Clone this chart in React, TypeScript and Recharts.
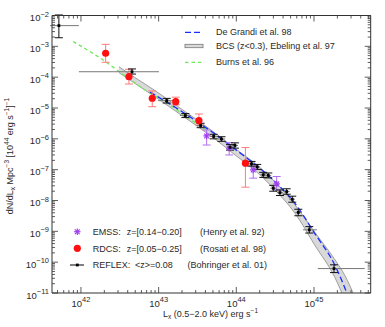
import React from 'react';
import { ComposedChart, XAxis, YAxis, Line, Area, Scatter, ErrorBar } from 'recharts';

// REFLEX, <z>=0.08 (Bohringer et al. 01)
const reflexL = [5.2e41, 4.54e42, 1.27e43, 2.21e43, 3.47e43, 5.11e43, 6.44e43, 8.3e43, 9.6e43, 1.57e44, 1.86e44, 2.22e44, 2.58e44, 2.99e44, 3.65e44, 4.45e44, 5.25e44, 6.28e44, 8.7e44, 1.81e45];
const reflexN = [4.7e-3, 1.5e-4, 1.73e-5, 5.7e-6, 2.7e-6, 1.2e-6, 9.9e-7, 5.3e-7, 6.1e-7, 1.55e-7, 1.23e-7, 6.8e-8, 6.5e-8, 2.5e-8, 1.8e-8, 1.95e-8, 1.1e-8, 4.1e-9, 1.12e-9, 6.2e-11];
const reflexNLo = [1.9e-3, 1.26e-4, 1.45e-5, 4.9e-6, 2.3e-6, 1.0e-6, 8.3e-7, 4.3e-7, 5.0e-7, 1.3e-7, 1.02e-7, 5.6e-8, 5.4e-8, 2.0e-8, 1.45e-8, 1.6e-8, 8.8e-9, 3.2e-9, 8.8e-10, 4.6e-11];
const reflexNHi = [1.04e-2, 1.85e-4, 2.05e-5, 6.6e-6, 3.2e-6, 1.4e-6, 1.17e-6, 6.5e-7, 7.4e-7, 1.85e-7, 1.48e-7, 8.2e-8, 7.8e-8, 3.1e-8, 2.2e-8, 2.4e-8, 1.38e-8, 5.2e-9, 1.42e-9, 8.2e-11];
const reflexLLo = [4.0e41, 9.4e41, 9.8e42, 1.88e43, 3.1e43, 4.57e43, 5.8e43, 7.6e43, 8.8e43, 1.43e44, 1.7e44, 2.03e44, 2.36e44, 2.74e44, 3.34e44, 4.07e44, 4.8e44, 5.75e44, 7.2e44, 1.12e45];
const reflexLHi = [9.4e41, 1.01e43, 1.53e43, 2.61e43, 3.9e43, 5.7e43, 7.2e43, 9.1e43, 1.05e44, 1.71e44, 2.03e44, 2.43e44, 2.82e44, 3.27e44, 3.99e44, 4.86e44, 5.7e44, 6.85e44, 1.09e45, 4.5e45];

// RDCS, z=[0.05-0.25] (Rosati et al. 98)
const rdcsL = [2.08e42, 4.15e42, 8.28e42, 1.66e43, 3.3e43, 1.31e44];
const rdcsN = [5.96e-4, 1.04e-4, 2.07e-5, 1.6e-5, 3.9e-6, 1.62e-7];
const rdcsNLo = [3.04e-4, 6.0e-5, 1.1e-5, 1.26e-5, 2.8e-6, 2.7e-8];
const rdcsNHi = [1.16e-3, 1.8e-4, 3.57e-5, 2.24e-5, 6.4e-6, 5.2e-7];

// EMSS, z=[0.14-0.20] (Henry et al. 92)
const emssL = [4.15e43, 8.1e43, 1.65e44, 3.31e44];
const emssN = [1.24e-6, 4.95e-7, 9.8e-8, 3.45e-8];
const emssNLo = [6.3e-7, 3.0e-7, 5.3e-8, 2.2e-8];
const emssNHi = [1.94e-6, 7.5e-7, 1.32e-7, 6.0e-8];

// BCS (z<0.3), Ebeling et al. 97 - confidence band
const bcsL = [3.08e42, 5.08e42, 9.16e42, 1.65e43, 2.98e43, 5.39e43, 9.73e43, 1.75e44, 3.16e44, 5.72e44, 1.03e45, 1.86e45, 2.51e45, 3.37e45];
const bcsLo = [1.41e-4, 6.03e-5, 2.24e-5, 7.94e-6, 2.82e-6, 9.55e-7, 2.95e-7, 9.33e-8, 2.19e-8, 3.8e-9, 3.47e-10, 3.16e-11, 5.62e-12, 7.94e-13];
const bcsHi = [2.19e-4, 9.33e-5, 3.55e-5, 1.26e-5, 4.47e-6, 1.51e-6, 4.79e-7, 1.58e-7, 3.98e-8, 7.08e-9, 9.12e-10, 1.2e-10, 3.63e-11, 7.24e-12];

// De Grandi et al. 98
const degL = [7.73e42, 9.16e42, 1.65e43, 2.98e43, 5.39e43, 9.73e43, 1.75e44, 3.16e44, 5.72e44, 1.03e45, 1.86e45, 2.51e45, 3.08e45];
const degN = [3.31e-5, 2.55e-5, 1.04e-5, 3.94e-6, 1.39e-6, 4.53e-7, 1.48e-7, 4.01e-8, 7.94e-9, 8.32e-10, 7.94e-11, 1.41e-11, 3.55e-12];

// Burns et al. 96
const burnsL = [7.96e41, 1.76e42, 4.03e42, 6.67e42, 1.2e43, 2.18e43, 4.15e43];
const burnsN = [1.42e-3, 4.2e-4, 9.4e-5, 3.85e-5, 1.62e-5, 5.6e-6, 1.95e-6];

const xMajor = [1e42, 1e43, 1e44, 1e45];
const yMajor = [1e-11, 1e-10, 1e-9, 1e-8, 1e-7, 1e-6, 1e-5, 1e-4, 1e-3, 1e-2];
const xDomain = [4.24e41, 5.37e45];
const yDomain = [1e-11, 1e-2];

const xTicks: number[] = [];
[1e41, 1e42, 1e43, 1e44, 1e45].forEach((d) => {
  for (let k = 1; k < 10; k++) {
    const v = d * k;
    if (v >= xDomain[0] && v <= xDomain[1]) xTicks.push(v);
  }
});
const yTicks: number[] = [];
yMajor.forEach((d) => {
  for (let k = 1; k < 10; k++) {
    const v = d * k;
    if (v <= yDomain[1] * 1.0001) yTicks.push(v);
  }
});

const reflexData = reflexL.map((L, i) => ({
  L,
  n: reflexN[i],
  ey: [reflexN[i] - reflexNLo[i], reflexNHi[i] - reflexN[i]],
  ex: [L - reflexLLo[i], reflexLHi[i] - L],
}));
const rdcsData = rdcsL.map((L, i) => ({ L, n: rdcsN[i], ey: [rdcsN[i] - rdcsNLo[i], rdcsNHi[i] - rdcsN[i]] }));
const emssData = emssL.map((L, i) => ({ L, n: emssN[i], ey: [emssN[i] - emssNLo[i], emssNHi[i] - emssN[i]] }));
const bcsData = bcsL.map((L, i) => ({ L, band: [bcsLo[i], bcsHi[i]] }));
const degData = degL.map((L, i) => ({ L, n: degN[i] }));
const burnsData = burnsL.map((L, i) => ({ L, n: burnsN[i] }));

const FONT = '"Liberation Sans", Arial, Helvetica, sans-serif';
const AX = '#333';
const TXT = '#2a2a2a';
const BLUE = '#1a2cff';
const GREEN = '#6fe85a';
const RED = '#ff1010';
const PURPLE = '#a040f0';

const isMajor = (v: number, majors: number[]) => majors.some((m) => Math.abs(v - m) / m < 1e-6);
const expText = (v: number) => {
  const e = Math.round(Math.log10(v));
  return e < 0 ? `\u2212${-e}` : `${e}`;
};

const BottomTick = (props: any) => {
  const { x, y, payload } = props;
  const major = isMajor(payload.value, xMajor);
  return (
    <g>
      <line x1={x} x2={x} y1={y} y2={y - (major ? 6 : 3)} stroke={AX} strokeWidth={0.8} />
      {major && (
        <text x={x} y={y + 14} textAnchor="middle" fontSize={9.5} fill={TXT} fontFamily={FONT}>
          10<tspan dy={-5.5} fontSize={7.5}>{expText(payload.value)}</tspan>
        </text>
      )}
    </g>
  );
};
const TopTick = (props: any) => {
  const { x, y, payload } = props;
  const major = isMajor(payload.value, xMajor);
  return <line x1={x} x2={x} y1={y} y2={y + (major ? 6 : 3)} stroke={AX} strokeWidth={0.8} />;
};
const LeftTick = (props: any) => {
  const { x, y, payload } = props;
  const major = isMajor(payload.value, yMajor);
  return (
    <g>
      <line x1={x} x2={x + (major ? 6 : 3)} y1={y} y2={y} stroke={AX} strokeWidth={0.8} />
      {major && (
        <text x={x - 3} y={y + 5.5} textAnchor="end" fontSize={9.5} fill={TXT} fontFamily={FONT}>
          10<tspan dy={-4.5} fontSize={7.5}>{expText(payload.value)}</tspan>
        </text>
      )}
    </g>
  );
};
const RightTick = (props: any) => {
  const { x, y, payload } = props;
  const major = isMajor(payload.value, yMajor);
  return <line x1={x} x2={x - (major ? 6 : 3)} y1={y} y2={y} stroke={AX} strokeWidth={0.8} />;
};

const ReflexDot = (props: any) => (
  <rect x={props.cx - 1.4} y={props.cy - 1.4} width={2.8} height={2.8} fill="#000" />
);
const RdcsDot = (props: any) => <circle cx={props.cx} cy={props.cy} r={3.6} fill={RED} />;
const Asterisk = ({ cx, cy, s = 3.2 }: { cx: number; cy: number; s?: number }) => (
  <g stroke={PURPLE} strokeWidth={1.2}>
    <line x1={cx - s} x2={cx + s} y1={cy} y2={cy} />
    <line x1={cx} x2={cx} y1={cy - s} y2={cy + s} />
    <line x1={cx - s * 0.75} x2={cx + s * 0.75} y1={cy - s * 0.75} y2={cy + s * 0.75} />
    <line x1={cx - s * 0.75} x2={cx + s * 0.75} y1={cy + s * 0.75} y2={cy - s * 0.75} />
  </g>
);
const EmssDot = (props: any) => <Asterisk cx={props.cx} cy={props.cy} />;

const Overlay = () => (
  <svg width={385} height={327} style={{ position: 'absolute', left: 0, top: 0, pointerEvents: 'none' }} fontFamily={FONT}>
    {/* top-right legend */}
    <line x1={185} x2={203} y1={32.3} y2={32.3} stroke={BLUE} strokeWidth={1.3} strokeDasharray="6 3" />
    <rect x={185} y={44.3} width={18} height={3.4} fill="#d9d9d9" stroke="#777" strokeWidth={0.8} />
    <line x1={185} x2={203} y1={62.3} y2={62.3} stroke={GREEN} strokeWidth={1.3} strokeDasharray="3.5 3" />
    <g fontSize={9} fill={TXT}>
      <text x={216} y={35}>De Grandi et al. 98</text>
      <text x={216} y={49}>BCS (z&lt;0.3), Ebeling et al. 97</text>
      <text x={216} y={65}>Burns et al. 96</text>
    </g>
    {/* bottom-left legend */}
    <Asterisk cx={77.3} cy={231.7} />
    <circle cx={77.3} cy={248.3} r={3.6} fill={RED} />
    <line x1={70} x2={84} y1={265} y2={265} stroke="#000" strokeWidth={1} />
    <rect x={75.9} y={263.6} width={2.8} height={2.8} fill="#000" />
    <g fontSize={9} fill={TXT} style={{ whiteSpace: 'pre' }}>
      <text x={92.7} y={235}>EMSS:</text>
      <text x={126.7} y={235}>z=[0.14{'\u2212'}0.20]</text>
      <text x={200} y={235}>(Henry et al. 92)</text>
      <text x={92.7} y={252}>RDCS:</text>
      <text x={126.7} y={252}>z=[0.05{'\u2212'}0.25]</text>
      <text x={200} y={252}>(Rosati et al. 98)</text>
      <text x={92.7} y={268}>REFLEX:</text>
      <text x={135} y={268}>&lt;z&gt;=0.08</text>
      <text x={187.5} y={268}>(Bohringer et al. 01)</text>
    </g>
    {/* axis titles */}
    <text x={210.5} y={317} textAnchor="middle" fontSize={9} fill={TXT} style={{ whiteSpace: 'pre' }}>
      L<tspan dy={2} fontSize={6.5}>x</tspan>
      <tspan dy={-2}> (0.5{'\u2212'}2.0 keV) erg s</tspan>
      <tspan dy={-4} fontSize={6.5}>{'\u2212'}1</tspan>
    </text>
    <text transform="translate(13,156) rotate(-90)" textAnchor="middle" fontSize={9} fill={TXT} style={{ whiteSpace: 'pre' }}>
      dN/dL<tspan dy={2} fontSize={6.5}>x</tspan>
      <tspan dy={-2}> Mpc</tspan>
      <tspan dy={-4} fontSize={6.5}>{'\u2212'}3</tspan>
      <tspan dy={4}> [10</tspan>
      <tspan dy={-4} fontSize={6.5}>44</tspan>
      <tspan dy={4}> erg s</tspan>
      <tspan dy={-4} fontSize={6.5}>{'\u2212'}1</tspan>
      <tspan dy={4}>]</tspan>
      <tspan dy={-4} fontSize={6.5}>{'\u2212'}1</tspan>
    </text>
  </svg>
);

export default function App() {
  return (
    <div style={{ position: 'absolute', left: 0, top: 0, width: 385, height: 327, background: '#fff' }}>
      <ComposedChart width={385} height={327} margin={{ top: 13, right: 10, bottom: 4, left: 12 }}>
        <XAxis
          xAxisId="b"
          type="number"
          dataKey="L"
          scale="log"
          domain={xDomain}
          allowDataOverflow
          ticks={xTicks}
          interval={0}
          tickLine={false}
          tickSize={0}
          tickMargin={0}
          tick={BottomTick}
          height={30}
          axisLine={{ stroke: AX }}
        />
        <XAxis
          xAxisId="t"
          orientation="top"
          type="number"
          dataKey="L"
          scale="log"
          domain={xDomain}
          allowDataOverflow
          ticks={xTicks}
          interval={0}
          tickLine={false}
          tickSize={0}
          tickMargin={0}
          tick={TopTick}
          height={2.5}
          axisLine={{ stroke: AX }}
        />
        <YAxis
          yAxisId="l"
          type="number"
          dataKey="n"
          scale="log"
          domain={yDomain}
          allowDataOverflow
          ticks={yTicks}
          interval={0}
          tickLine={false}
          tickSize={0}
          tickMargin={0}
          tick={LeftTick}
          width={40}
          axisLine={{ stroke: AX }}
        />
        <YAxis
          yAxisId="r"
          orientation="right"
          type="number"
          dataKey="n"
          scale="log"
          domain={yDomain}
          allowDataOverflow
          ticks={yTicks}
          interval={0}
          tickLine={false}
          tickSize={0}
          tickMargin={0}
          tick={RightTick}
          width={4.3}
          axisLine={{ stroke: AX }}
        />
        <Scatter xAxisId="t" yAxisId="r" data={[]} isAnimationActive={false} />
        <Area
          xAxisId="b"
          yAxisId="l"
          data={bcsData}
          dataKey="band"
          type="monotone"
          fill="#d9d9d9"
          fillOpacity={1}
          stroke="#8a8a8a"
          strokeWidth={0.8}
          dot={false}
          activeDot={false}
          isAnimationActive={false}
        />
        <Line xAxisId="b" yAxisId="l" data={burnsData} dataKey="n" type="monotone" stroke={GREEN} strokeWidth={1.3} strokeDasharray="3.5 3" dot={false} activeDot={false} isAnimationActive={false} />
        <Line xAxisId="b" yAxisId="l" data={degData} dataKey="n" type="monotone" stroke={BLUE} strokeWidth={1.3} strokeDasharray="6 3" dot={false} activeDot={false} isAnimationActive={false} />
        <Scatter xAxisId="b" yAxisId="l" data={rdcsData} shape={RdcsDot} isAnimationActive={false}>
          <ErrorBar dataKey="ey" direction="y" width={4} stroke="#ff7a7a" strokeWidth={1} />
        </Scatter>
        <Scatter xAxisId="b" yAxisId="l" data={emssData} shape={EmssDot} isAnimationActive={false}>
          <ErrorBar dataKey="ey" direction="y" width={4} stroke="#b070f0" strokeWidth={1} />
        </Scatter>
        <Scatter xAxisId="b" yAxisId="l" data={reflexData} shape={ReflexDot} isAnimationActive={false}>
          <ErrorBar dataKey="ex" direction="x" width={0} stroke="#777" strokeWidth={1} />
          <ErrorBar dataKey="ey" direction="y" width={4} stroke="#111" strokeWidth={1} />
        </Scatter>
      </ComposedChart>
      <Overlay />
    </div>
  );
}
